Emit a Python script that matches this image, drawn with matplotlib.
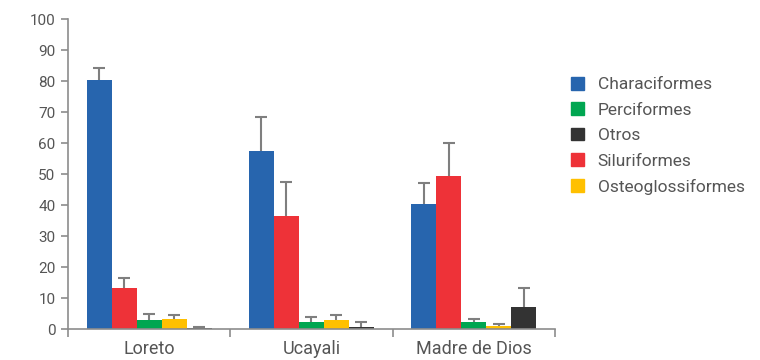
import numpy as np
import matplotlib
matplotlib.use('Agg')
import matplotlib.pyplot as plt
import matplotlib.patches as mpatches

# regiones y ordenes
regiones = ['Loreto', 'Ucayali', 'Madre de Dios']
ordenes = ['Characiformes', 'Siluriformes', 'Perciformes', 'Osteoglossiformes', 'Otros']

# porcentaje medio por orden
characiformes = [80.2, 57.6, 40.3]
siluriformes = [13.2, 36.5, 49.4]
perciformes = [2.8, 2.4, 2.3]
osteoglossiformes = [3.2, 2.9, 1.0]
otros = [0.3, 0.6, 7.1]

# desviacion (solo hacia arriba)
err_characiformes = [4.0, 10.8, 6.8]
err_siluriformes = [3.2, 10.9, 10.6]
err_perciformes = [2.0, 1.5, 0.9]
err_osteoglossiformes = [1.3, 1.6, 0.6]
err_otros = [0.3, 1.7, 6.1]

colores = {'Characiformes': '#2765ae',
           'Siluriformes': '#ee3238',
           'Perciformes': '#00a651',
           'Osteoglossiformes': '#ffc000',
           'Otros': '#333333'}
orden_leyenda = ['Characiformes', 'Perciformes', 'Otros', 'Siluriformes', 'Osteoglossiformes']

valores = [characiformes, siluriformes, perciformes, osteoglossiformes, otros]
errores = [err_characiformes, err_siluriformes, err_perciformes, err_osteoglossiformes, err_otros]

plt.rcParams['font.family'] = ['Roboto', 'DejaVu Sans']
gris_texto = '#555555'
gris_eje = '#8c8c8c'
gris_error = '#7f7f7f'

fig = plt.figure(figsize=(7.6, 3.6), dpi=100)
ax = fig.add_axes([0.0895, 0.086, 0.6405, 0.861])

ancho = 0.154
x = np.arange(len(regiones))
for i, orden in enumerate(ordenes):
    pos = x + (i - 2) * ancho
    alto = np.array(valores[i])
    tope = alto + np.array(errores[i])
    ax.bar(pos, alto, width=ancho, color=colores[orden], edgecolor='none', zorder=2)
    # barra de error superior con su tapa
    ax.vlines(pos, alto, tope, color=gris_error, linewidth=1.5, zorder=1)
    ax.plot(pos, tope, linestyle='none', marker='_', markersize=8,
            markeredgewidth=1.5, color=gris_error, zorder=1)

ax.set_xlim(-0.5, 2.5)
ax.set_ylim(0, 100)
ax.set_yticks(np.arange(0, 101, 10))
ax.set_xticks([-0.5, 0.5, 1.5, 2.5])
ax.set_xticklabels([])
ax.set_xticks(x, minor=True)
ax.set_xticklabels(regiones, minor=True)
ax.tick_params(axis='x', which='minor', length=0, labelsize=13, colors=gris_texto, pad=8)
ax.tick_params(axis='x', which='major', length=6, direction='out', color=gris_eje, width=1.2)
ax.tick_params(axis='y', length=5, direction='out', color=gris_eje, width=1.2,
               labelsize=11, labelcolor=gris_texto, pad=4)

for lado in ['top', 'right']:
    ax.spines[lado].set_visible(False)
for lado in ['left', 'bottom']:
    ax.spines[lado].set_color(gris_eje)
    ax.spines[lado].set_linewidth(1.2)

# leyenda
etiquetas = [mpatches.Patch(color=colores[o], label=o) for o in orden_leyenda]
leg = fig.legend(handles=etiquetas, loc='upper left', bbox_to_anchor=(0.742, 0.806),
                 frameon=False, fontsize=12.5, handlelength=0.75, handleheight=0.75,
                 handletextpad=0.8, labelspacing=0.58, borderaxespad=0)
for t in leg.get_texts():
    t.set_color(gris_texto)

fig.savefig('out.png', dpi=100)
